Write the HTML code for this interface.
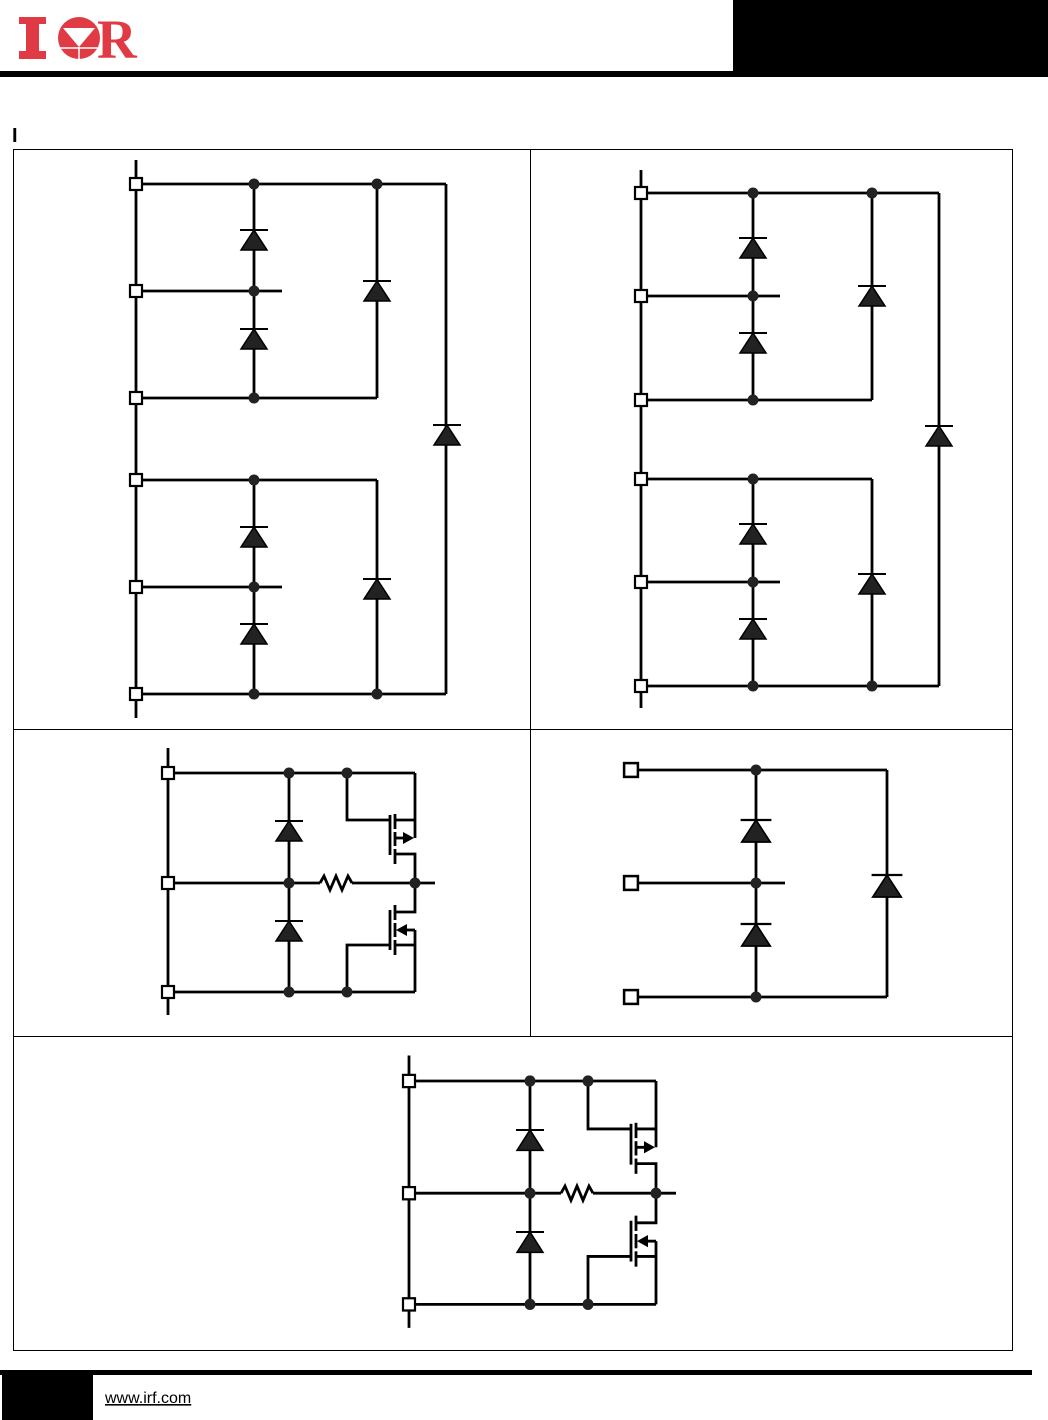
<!DOCTYPE html>
<html><head><meta charset="utf-8">
<style>
html,body{margin:0;padding:0;background:#fff;}
body{width:1048px;height:1420px;position:relative;overflow:hidden;font-family:"Liberation Sans",sans-serif;}
</style></head>
<body>
<svg width="1048" height="1420" viewBox="0 0 1048 1420" xmlns="http://www.w3.org/2000/svg" style="position:absolute;left:0;top:0">
<defs>
<g id="d"><polygon points="-13,10 13,10 0,-10" fill="#222" stroke="#000" stroke-width="1.5"/><line x1="-14" y1="-10" x2="14" y2="-10" stroke="#000" stroke-width="2"/></g>
<g id="o"><circle r="5.5" fill="#222"/></g>
<g id="t"><rect x="-6" y="-6" width="12" height="12" fill="#fff" stroke="#000" stroke-width="2.2"/></g>
<g id="p3">
<g fill="none" stroke="#000" stroke-width="2.8">
<line x1="168" y1="748" x2="168" y2="1015"/>
<line x1="168" y1="773" x2="415" y2="773"/>
<line x1="168" y1="883" x2="320" y2="883"/>
<polyline points="320,883 324,876 330,890 336,876 342,890 348,876 352,883"/>
<line x1="352" y1="883" x2="435" y2="883"/>
<line x1="168" y1="992" x2="415" y2="992"/>
<line x1="289" y1="773" x2="289" y2="992"/>
<polyline points="347,773 347,820 390,820"/>
<line x1="390" y1="815" x2="390" y2="855"/>
<line x1="395" y1="814" x2="395" y2="829"/>
<line x1="395" y1="832" x2="395" y2="846"/>
<line x1="395" y1="849" x2="395" y2="864"/>
<line x1="395" y1="820" x2="415" y2="820"/>
<line x1="395" y1="838" x2="405" y2="838"/>
<line x1="415" y1="773" x2="415" y2="838"/>
<polyline points="395,854 415,854 415,912 395,912"/>
<line x1="390" y1="910" x2="390" y2="950"/>
<line x1="395" y1="905" x2="395" y2="920"/>
<line x1="395" y1="923" x2="395" y2="937"/>
<line x1="395" y1="940" x2="395" y2="955"/>
<line x1="405" y1="930" x2="415" y2="930"/>
<polyline points="347,992 347,945 390,945"/>
<line x1="395" y1="945" x2="415" y2="945"/>
<line x1="415" y1="930" x2="415" y2="992"/>
</g>
<polygon points="414,838 403,832 403,844" fill="#000"/>
<polygon points="396,930 407,924 407,936" fill="#000"/>
<use href="#d" x="289" y="831"/><use href="#d" x="289" y="931"/>
<use href="#o" x="289" y="773"/><use href="#o" x="347" y="773"/>
<use href="#o" x="289" y="883"/><use href="#o" x="415" y="883"/>
<use href="#o" x="289" y="992"/><use href="#o" x="347" y="992"/>
<use href="#t" x="168" y="773"/><use href="#t" x="168" y="883"/><use href="#t" x="168" y="992"/>
</g>
</defs>

<!-- header -->
<rect x="733" y="0" width="315" height="74" fill="#000"/>
<rect x="0" y="71" width="1048" height="6" fill="#000"/>
<g fill="#e03a45">
<rect x="19" y="17" width="27" height="7"/><rect x="26" y="17" width="13" height="42"/><rect x="19" y="51" width="27" height="8"/>
<circle cx="79" cy="38" r="21"/>
<text x="97" y="58" font-family="Liberation Serif,serif" font-weight="bold" font-size="55">R</text>
</g>
<polygon points="63,28 95,28 79,47" fill="#fff"/>
<line x1="58" y1="48" x2="100" y2="48" stroke="#fff" stroke-width="1.5"/>
<line x1="79" y1="47" x2="79" y2="60" stroke="#fff" stroke-width="1.5"/>
<text x="12" y="142" font-size="20" font-weight="bold">I</text>

<!-- frame -->
<g fill="none" stroke="#000" stroke-width="1">
<rect x="13.5" y="149.5" width="999" height="1201"/>
<line x1="530.5" y1="149" x2="530.5" y2="1036"/>
<line x1="13" y1="729.5" x2="1012" y2="729.5"/>
<line x1="13" y1="1036.5" x2="1012" y2="1036.5"/>
</g>

<!-- panel 1 -->
<g fill="none" stroke="#000" stroke-width="2.8">
<line x1="136" y1="160" x2="136" y2="718"/>
<line x1="136" y1="184" x2="446" y2="184"/>
<line x1="136" y1="291" x2="282" y2="291"/>
<line x1="136" y1="398" x2="377" y2="398"/>
<line x1="136" y1="480" x2="377" y2="480"/>
<line x1="136" y1="587" x2="282" y2="587"/>
<line x1="136" y1="694" x2="446" y2="694"/>
<line x1="254" y1="184" x2="254" y2="398"/>
<line x1="377" y1="184" x2="377" y2="398"/>
<line x1="254" y1="480" x2="254" y2="694"/>
<line x1="377" y1="480" x2="377" y2="694"/>
<line x1="446" y1="184" x2="446" y2="694"/>
</g>
<use href="#d" x="254" y="240"/><use href="#d" x="254" y="339"/><use href="#d" x="377" y="291"/>
<use href="#d" x="447" y="435"/>
<use href="#d" x="254" y="537"/><use href="#d" x="254" y="634"/><use href="#d" x="377" y="589"/>
<use href="#o" x="254" y="184"/><use href="#o" x="377" y="184"/><use href="#o" x="254" y="291"/><use href="#o" x="254" y="398"/>
<use href="#o" x="254" y="480"/><use href="#o" x="254" y="587"/><use href="#o" x="254" y="694"/><use href="#o" x="377" y="694"/>
<use href="#t" x="136" y="184"/><use href="#t" x="136" y="291"/><use href="#t" x="136" y="398"/>
<use href="#t" x="136" y="480"/><use href="#t" x="136" y="587"/><use href="#t" x="136" y="694"/>

<!-- panel 2 -->
<g fill="none" stroke="#000" stroke-width="2.8">
<line x1="641" y1="170" x2="641" y2="708"/>
<line x1="641" y1="193" x2="939" y2="193"/>
<line x1="641" y1="296" x2="780" y2="296"/>
<line x1="641" y1="400" x2="872" y2="400"/>
<line x1="641" y1="479" x2="872" y2="479"/>
<line x1="641" y1="582" x2="780" y2="582"/>
<line x1="641" y1="686" x2="939" y2="686"/>
<line x1="753" y1="193" x2="753" y2="400"/>
<line x1="872" y1="193" x2="872" y2="400"/>
<line x1="753" y1="479" x2="753" y2="686"/>
<line x1="872" y1="479" x2="872" y2="686"/>
<line x1="939" y1="193" x2="939" y2="686"/>
</g>
<use href="#d" x="753" y="248"/><use href="#d" x="753" y="343"/><use href="#d" x="872" y="296"/>
<use href="#d" x="939" y="436"/>
<use href="#d" x="753" y="534"/><use href="#d" x="753" y="629"/><use href="#d" x="872" y="584"/>
<use href="#o" x="753" y="193"/><use href="#o" x="872" y="193"/><use href="#o" x="753" y="296"/><use href="#o" x="753" y="400"/>
<use href="#o" x="753" y="479"/><use href="#o" x="753" y="582"/><use href="#o" x="753" y="686"/><use href="#o" x="872" y="686"/>
<use href="#t" x="641" y="193"/><use href="#t" x="641" y="296"/><use href="#t" x="641" y="400"/>
<use href="#t" x="641" y="479"/><use href="#t" x="641" y="582"/><use href="#t" x="641" y="686"/>

<!-- panel 3 -->
<use href="#p3"/>

<!-- panel 4 -->
<g fill="none" stroke="#000" stroke-width="2.8">
<line x1="631" y1="770" x2="887" y2="770"/>
<line x1="631" y1="883" x2="785" y2="883"/>
<line x1="631" y1="997" x2="887" y2="997"/>
<line x1="756" y1="770" x2="756" y2="997"/>
<line x1="887" y1="770" x2="887" y2="997"/>
</g>
<g transform="translate(756,831) scale(1.1)"><use href="#d"/></g>
<g transform="translate(756,935) scale(1.1)"><use href="#d"/></g>
<g transform="translate(887,886) scale(1.1)"><use href="#d"/></g>
<use href="#o" x="756" y="770"/><use href="#o" x="756" y="883"/><use href="#o" x="756" y="997"/>
<g transform="translate(631,770) scale(1.15)"><use href="#t"/></g>
<g transform="translate(631,883) scale(1.15)"><use href="#t"/></g>
<g transform="translate(631,997) scale(1.15)"><use href="#t"/></g>

<!-- panel 5 -->
<g transform="translate(241,0)"><g transform="translate(0,1081) scale(1,1.02) translate(0,-773)"><use href="#p3"/></g></g>

<!-- footer -->
<rect x="0" y="1370" width="1032" height="5" fill="#000"/>
<rect x="2" y="1370" width="91" height="50" fill="#000"/>
<text x="105" y="1403" font-size="16" fill="#000" text-decoration="underline">www.irf.com</text>
</svg>
</body></html>
